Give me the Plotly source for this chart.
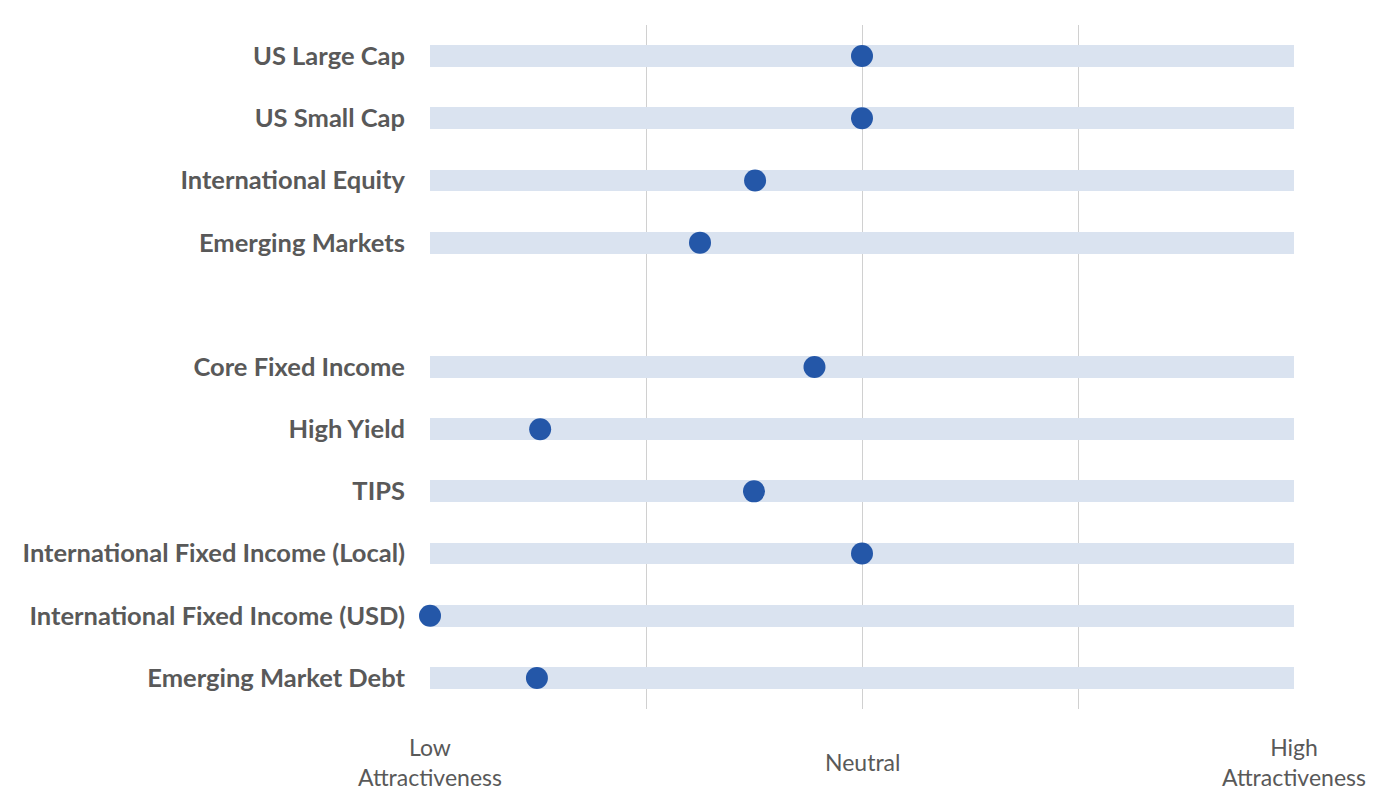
import plotly.graph_objects as go

categories = [
    "US Large Cap", "US Small Cap", "International Equity", "Emerging Markets",
    "",
    "Core Fixed Income", "High Yield", "TIPS", "International Fixed Income (Local)",
    "International Fixed Income (USD)", "Emerging Market Debt",
]
scores = [2.0, 2.0, 1.505, 1.25, None, 1.78, 0.51, 1.5, 2.0, 0.0, 0.495]
scale_max = 4
tick_values = [0, 2, 4]
tick_labels = ["Low<br>Attractiveness", "Neutral", "High<br>Attractiveness"]

positions = list(range(len(categories)))
bar_len = [scale_max if s is not None else None for s in scores]

fig = go.Figure()
fig.add_trace(go.Bar(
    x=bar_len, y=positions, orientation="h", base=0, width=0.35,
    marker=dict(color="#dae3f0", line=dict(width=0)),
    hoverinfo="skip", showlegend=False,
))
fig.add_trace(go.Scatter(
    x=scores, y=positions, mode="markers",
    marker=dict(size=22, color="#2457a8", line=dict(width=0)),
    showlegend=False, cliponaxis=False,
))

for v, t in zip(tick_values, tick_labels):
    fig.add_annotation(
        x=v, xref="x", y=-0.078, yref="paper", text=t, showarrow=False,
        xanchor="center", yanchor="middle", align="center",
        font=dict(family="Lato, Open Sans, sans-serif", size=23, color="#595959"),
    )

fig.update_layout(
    width=1386, height=809,
    margin=dict(l=422, r=100, t=17, b=108),
    paper_bgcolor="white", plot_bgcolor="white",
    bargap=0,
    xaxis=dict(
        range=[0, scale_max], tickvals=[0, 1, 2, 3, 4], showticklabels=False,
        showgrid=True, gridcolor="#d0d0d0", gridwidth=1.3,
        zeroline=False, showline=False, fixedrange=True,
    ),
    yaxis=dict(
        range=[len(categories) - 0.5, -0.5],
        tickvals=positions, ticktext=categories,
        showgrid=False, zeroline=False, showline=False,
        tickfont=dict(family="Lato, Open Sans, sans-serif", size=25.5, color="#595959", weight="bold"),
        ticklabelstandoff=24,
    ),
    font=dict(family="Lato, Open Sans, sans-serif"),
)

fig.write_html("out.html")
